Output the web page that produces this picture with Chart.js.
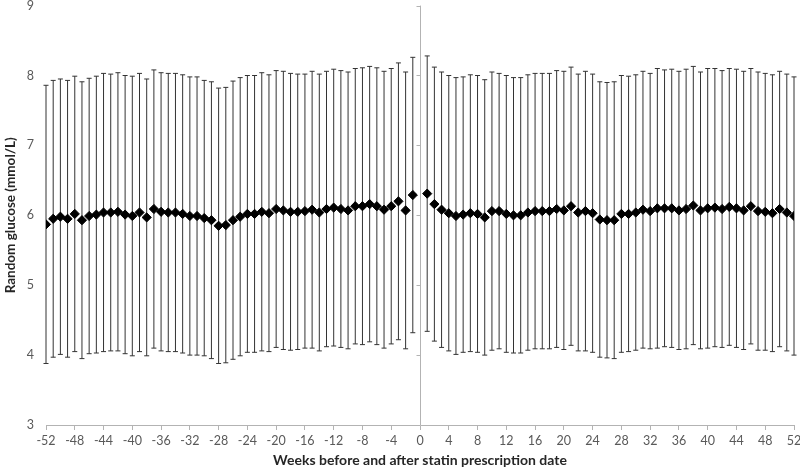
<!DOCTYPE html>
<html>
<head>
<meta charset="utf-8">
<script src="https://cdn.jsdelivr.net/npm/chart.js@4.4.1/dist/chart.umd.min.js"></script>
<style>
html,body{margin:0;padding:0;background:#fff;}
#wrap{width:800px;height:469px;position:relative;}
</style>
</head>
<body>
<div id="wrap"><canvas id="c"></canvas></div>
<script>
const weeks = [-52,-51,-50,-49,-48,-47,-46,-45,-44,-43,-42,-41,-40,-39,-38,-37,-36,-35,-34,-33,-32,-31,-30,-29,-28,-27,-26,-25,-24,-23,-22,-21,-20,-19,-18,-17,-16,-15,-14,-13,-12,-11,-10,-9,-8,-7,-6,-5,-4,-3,-2,-1,
  1,2,3,4,5,6,7,8,9,10,11,12,13,14,15,16,17,18,19,20,21,22,23,24,25,26,27,28,29,30,31,32,33,34,35,36,37,38,39,40,41,42,43,44,45,46,47,48,49,50,51,52];

const meanGlucose = [5.87,5.95,5.98,5.95,6.02,5.93,5.99,6.01,6.04,6.04,6.05,6.01,5.99,6.04,5.97,6.09,6.05,6.04,6.04,6.02,5.99,5.99,5.96,5.93,5.85,5.86,5.93,5.98,6.02,6.02,6.05,6.03,6.09,6.07,6.05,6.05,6.06,6.08,6.04,6.09,6.11,6.09,6.07,6.13,6.13,6.16,6.13,6.08,6.13,6.20,6.07,6.29,
  6.31,6.16,6.08,6.03,5.99,6.01,6.03,6.02,5.97,6.06,6.06,6.02,6.00,6.00,6.04,6.06,6.06,6.06,6.09,6.07,6.13,6.04,6.06,6.03,5.94,5.93,5.93,6.02,6.02,6.04,6.08,6.06,6.10,6.10,6.10,6.07,6.09,6.14,6.07,6.10,6.11,6.09,6.12,6.10,6.07,6.13,6.06,6.05,6.03,6.09,6.04,5.99];

const sdGlucose = [1.99,1.98,1.97,1.98,1.97,1.98,1.97,1.98,1.99,1.98,1.99,1.99,2.00,1.99,1.98,1.99,1.99,1.99,1.99,1.99,1.99,1.99,1.97,1.98,1.97,1.97,1.99,1.99,1.98,1.98,1.99,1.98,1.98,1.99,1.98,1.97,1.96,1.98,1.98,1.97,1.98,1.98,1.98,1.97,1.98,1.97,1.98,1.98,1.97,1.98,1.98,1.97,
  1.97,1.96,1.97,1.97,1.98,1.97,1.98,1.98,1.97,1.99,1.97,1.98,1.97,1.97,1.97,1.97,1.97,1.97,1.98,1.99,1.99,1.98,2.00,1.99,1.97,1.97,1.98,1.98,1.97,1.97,1.98,1.97,2.00,1.98,1.99,1.99,2.00,1.99,1.98,2.00,1.99,1.98,1.98,1.99,1.99,1.97,1.99,1.98,1.98,1.97,1.98,1.99];

const xTickStep = 4;
const yMin = 3, yMax = 9;

const points = weeks.map((w, i) => ({x: w, y: meanGlucose[i]}));

const errorBars = {
  id: 'errorBars',
  beforeDatasetsDraw(chart) {
    const {ctx, chartArea, scales: {x, y}} = chart;
    ctx.save();
    const x0 = Math.round(x.getPixelForValue(0)) + 0.5;
    ctx.strokeStyle = '#b3b3b3';
    ctx.lineWidth = 1;
    ctx.beginPath();
    ctx.moveTo(x0, chartArea.top);
    ctx.lineTo(x0, chartArea.bottom);
    y.ticks.forEach(t => {
      const py = Math.round(y.getPixelForValue(t.value)) + 0.5;
      ctx.moveTo(x0 - 4, py);
      ctx.lineTo(x0, py);
    });
    ctx.stroke();
    ctx.strokeStyle = '#333333';
    ctx.lineWidth = 1;
    ctx.beginPath();
    weeks.forEach((w, i) => {
      const px = x.getPixelForValue(w);
      const hi = y.getPixelForValue(meanGlucose[i] + sdGlucose[i]);
      const lo = y.getPixelForValue(meanGlucose[i] - sdGlucose[i]);
      ctx.moveTo(px, hi);
      ctx.lineTo(px, lo);
      ctx.moveTo(px - 2.5, hi);
      ctx.lineTo(px + 2.5, hi);
      ctx.moveTo(px - 2.5, lo);
      ctx.lineTo(px + 2.5, lo);
    });
    ctx.stroke();
    ctx.restore();
  }
};

new Chart(document.getElementById('c'), {
  type: 'scatter',
  data: {
    datasets: [{
      data: points,
      pointStyle: 'rectRot',
      pointRadius: 4.6,
      pointBackgroundColor: '#000',
      pointBorderColor: '#000',
      pointBorderWidth: 1,
      showLine: false
    }]
  },
  options: {
    responsive: true,
    maintainAspectRatio: false,
    animation: false,
    layout: {padding: {top: 5, right: 6, left: 0, bottom: 0}},
    plugins: {legend: {display: false}, tooltip: {enabled: false}},
    scales: {
      x: {
        type: 'linear',
        min: -52, max: 52,
        afterFit(s) { s.height = 44; s.paddingLeft = 0; s.paddingRight = 0; },
        ticks: {stepSize: xTickStep, color: '#595959', font: {family: 'Lato', size: 12.5}, padding: 3, maxRotation: 0, autoSkip: false},
        grid: {drawOnChartArea: false, drawTicks: true, tickLength: 5, tickColor: '#b3b3b3', color: '#b3b3b3'},
        border: {display: true, color: '#b3b3b3'},
        title: {display: true, text: 'Weeks before and after statin prescription date', color: '#262626', font: {family: 'Lato', size: 14, weight: 'bold'}, padding: {top: 2, bottom: 0}}
      },
      y: {
        min: yMin, max: yMax,
        afterFit(s) { s.width = 46; s.paddingTop = 0; s.paddingBottom = 0; },
        ticks: {stepSize: 1, color: '#595959', font: {family: 'Lato', size: 12.5}, padding: 12},
        grid: {display: false, drawTicks: false},
        border: {display: false},
        title: {display: true, text: 'Random glucose (mmol/L)', color: '#262626', font: {family: 'Lato', size: 13.5, weight: 'bold'}, padding: {top: 3, bottom: 0}}
      }
    }
  },
  plugins: [errorBars]
});
</script>
</body>
</html>
